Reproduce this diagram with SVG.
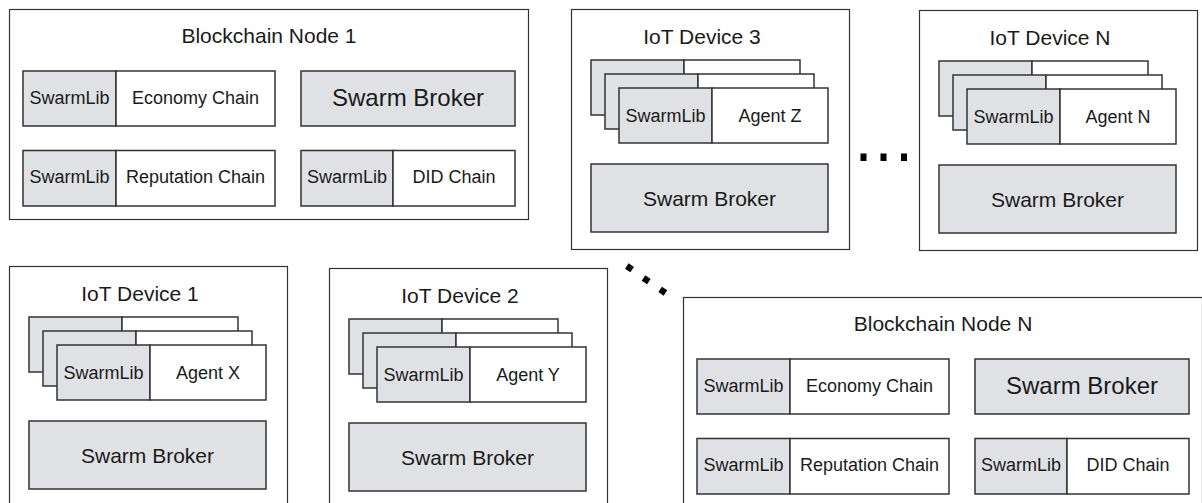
<svg xmlns="http://www.w3.org/2000/svg" width="1202" height="503" viewBox="0 0 1202 503">
<defs>
<style>
.outer{fill:#ffffff;stroke:#333333;stroke-width:1.2}
.g{fill:#dfe1e5;stroke:#333333;stroke-width:1.5}
.w{fill:#ffffff;stroke:#333333;stroke-width:1.5}
text{font-family:"Liberation Sans",Arial,Helvetica,sans-serif;fill:#1a1a1a;text-anchor:middle}
.t18{font-size:18px}
.t21{font-size:21px}
.t24{font-size:24px}
.dot{fill:#000000}
</style>
<g id="chainContent">
<rect class="g" x="14" y="62" width="93" height="55"/>
<rect class="w" x="107" y="62" width="159" height="55"/>
<text class="t18" x="60.5" y="94.5">SwarmLib</text>
<text class="t18" x="186.5" y="94.5">Economy Chain</text>
<rect class="g" x="292" y="62" width="214" height="55"/>
<text class="t24" x="399" y="97">Swarm Broker</text>
<rect class="g" x="14" y="141.5" width="93" height="55.5"/>
<rect class="w" x="107" y="141.5" width="159" height="55.5"/>
<text class="t18" x="60.5" y="174">SwarmLib</text>
<text class="t18" x="186.5" y="174">Reputation Chain</text>
<rect class="g" x="292" y="141.5" width="92" height="55.5"/>
<rect class="w" x="384" y="141.5" width="122" height="55.5"/>
<text class="t18" x="338" y="174">SwarmLib</text>
<text class="t18" x="445" y="174">DID Chain</text>
</g>
<g id="deviceBase">
<rect class="outer" x="0.5" y="0.5" width="278" height="240"/>
<rect class="g" x="20" y="51" width="93" height="55"/>
<rect class="w" x="113" y="51" width="116" height="55"/>
<rect class="g" x="34" y="65" width="93" height="55"/>
<rect class="w" x="127" y="65" width="116" height="55"/>
<rect class="g" x="48" y="79" width="93" height="55"/>
<rect class="w" x="141" y="79" width="116" height="55"/>
<text class="t18" x="94.5" y="113">SwarmLib</text>
<rect class="g" x="20" y="155" width="237" height="68"/>
<text class="t21" x="138.5" y="196.5">Swarm Broker</text>
</g>
</defs>

<g id="blockchain-node-1" transform="translate(9,9)">
<rect class="outer" x="0.5" y="0.5" width="519" height="210"/>
<text class="t21" x="260" y="34">Blockchain Node 1</text>
<use href="#chainContent"/>
</g>

<g id="blockchain-node-n" transform="translate(683,297)">
<rect class="outer" x="0.5" y="0.5" width="519" height="210"/>
<text class="t21" x="260" y="34">Blockchain Node N</text>
<use href="#chainContent"/>
</g>

<g id="iot-device-3" transform="translate(571,9)">
<use href="#deviceBase"/>
<text class="t21" x="131" y="35">IoT Device 3</text>
<text class="t18" x="199" y="113">Agent Z</text>
</g>

<g id="iot-device-n" transform="translate(919,10)">
<use href="#deviceBase"/>
<text class="t21" x="131" y="35">IoT Device N</text>
<text class="t18" x="199" y="113">Agent N</text>
</g>

<g id="iot-device-1" transform="translate(9,266)">
<use href="#deviceBase"/>
<text class="t21" x="131" y="35">IoT Device 1</text>
<text class="t18" x="199" y="113">Agent X</text>
</g>

<g id="iot-device-2" transform="translate(329,268)">
<use href="#deviceBase"/>
<text class="t21" x="131" y="35">IoT Device 2</text>
<text class="t18" x="199" y="113">Agent Y</text>
</g>

<g id="connectors">
<rect class="dot" x="860.5" y="153.5" width="6" height="7.5"/>
<rect class="dot" x="880.5" y="153.5" width="6" height="7.5"/>
<rect class="dot" x="901" y="153.5" width="6" height="7.5"/>
<rect class="dot" x="-3.2" y="-3.2" width="6.4" height="6.4" transform="translate(629.5,267.8) rotate(34)"/>
<rect class="dot" x="-3.2" y="-3.2" width="6.4" height="6.4" transform="translate(646.2,279.8) rotate(34)"/>
<rect class="dot" x="-3.2" y="-3.2" width="6.4" height="6.4" transform="translate(662.8,291.2) rotate(34)"/>
</g>
</svg>
